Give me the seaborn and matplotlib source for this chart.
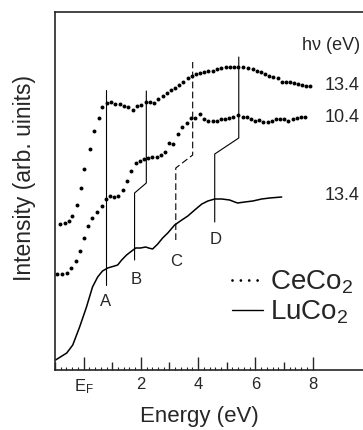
import numpy as np
import pandas as pd
import matplotlib
matplotlib.use("Agg")
import matplotlib.pyplot as plt
import seaborn as sns
from matplotlib.lines import Line2D
from matplotlib.ticker import FixedLocator, FixedFormatter

# CeCo2, hv = 13.4 eV (dots, upper curve)
ce134_e = [-0.84, -0.66, -0.52, -0.42, -0.24, -0.10, 0.03, 0.21, 0.35, 0.52, 0.63, 0.80,
           0.94, 1.08, 1.26, 1.40, 1.54, 1.71, 1.85, 1.99, 2.17, 2.31, 2.45, 2.59, 2.76,
           2.90, 3.04, 3.18, 3.32, 3.46, 3.64, 3.78, 3.92, 4.06, 4.20, 4.34, 4.51, 4.65,
           4.79, 4.97, 5.10, 5.24, 5.38, 5.56, 5.73, 5.91, 6.05, 6.19, 6.33, 6.47, 6.61,
           6.78, 6.92, 7.06, 7.20, 7.34, 7.48, 7.62, 7.76, 7.90]
ce134_i = [146, 147, 149, 154, 165, 182, 201, 221, 239, 252, 263, 267,
           268, 266, 266, 264, 263, 260, 264, 265, 268, 268, 267, 271, 274,
           277, 280, 282, 285, 288, 292, 294, 296, 297, 298, 299, 299, 301,
           302, 303, 303, 303, 303, 303, 302, 301, 299, 298, 296, 294, 293,
           292, 288, 288, 288, 287, 286, 285, 284, 284]

# CeCo2, hv = 10.4 eV (dots, middle curve)
ce104_e = [-0.94, -0.77, -0.59, -0.45, -0.28, -0.14, 0.00, 0.17, 0.31, 0.45, 0.63, 0.77,
           0.91, 1.05, 1.19, 1.36, 1.50, 1.64, 1.82, 1.96, 2.10, 2.24, 2.38, 2.55, 2.69,
           2.83, 2.97, 3.11, 3.29, 3.43, 3.60, 3.74, 3.88, 4.06, 4.20, 4.34, 4.51, 4.65,
           4.79, 4.93, 5.07, 5.21, 5.38, 5.56, 5.70, 5.84, 5.98, 6.12, 6.26, 6.43, 6.57,
           6.71, 6.85, 6.99, 7.13, 7.31, 7.45, 7.59, 7.73]
ce104_i = [96, 96, 97, 102, 109, 119, 132, 144, 152, 158, 164, 171,
           174, 173, 174, 180, 189, 199, 207, 209, 211, 212, 213, 213, 215,
           218, 227, 226, 236, 243, 247, 252, 252, 256, 251, 249, 249, 249,
           251, 251, 252, 253, 255, 253, 253, 251, 249, 250, 248, 248, 249,
           251, 251, 251, 249, 251, 252, 253, 253]

# LuCo2, hv = 13.4 eV (solid line)
lu134_e = [-0.98, -0.59, -0.38, -0.14, 0.10, 0.31, 0.49, 0.66, 0.84, 1.08, 1.19, 1.33,
           1.50, 1.68, 1.82, 1.99, 2.17, 2.27, 2.41, 2.59, 2.76, 2.94, 3.18, 3.43, 3.64,
           3.88, 4.13, 4.34, 4.58, 4.83, 5.10, 5.28, 5.38, 5.63, 5.91, 6.22, 6.50, 6.92]
lu134_i = [10, 17, 25, 43, 63, 83, 93, 99, 102, 104, 105, 110,
           115, 119, 122, 122, 123, 122, 121, 126, 132, 137, 145, 150, 154,
           160, 166, 169, 171, 171, 170, 168, 167, 168, 169, 171, 172, 173]

# feature markers A-D (vertices of each marker path)
mark_names = ["A", "B", "C", "D"]
mark_e = [[0.77, 0.77], [1.78, 1.78, 2.19, 2.19], [3.22, 3.22, 3.81, 3.81], [4.58, 4.58, 5.42, 5.42]]
mark_i = [[85, 280], [110, 177, 187, 279], [130, 202, 215, 308], [148, 216, 232, 313]]
mark_lbl_e = [0.77, 1.82, 3.22, 4.62]
mark_lbl_i = [68, 90, 108, 131]

# photon energy labels at curve ends
hv_labels = ["13.4", "10.4", "13.4"]
hv_lbl_i = [284, 253, 175]

sns.set_style("ticks")
plt.rcParams["font.family"] = ["Liberation Sans", "DejaVu Sans"]
plt.rcParams["mathtext.fontset"] = "custom"
plt.rcParams["mathtext.rm"] = "Liberation Sans"
plt.rcParams["mathtext.it"] = "Liberation Sans:italic"

fig = plt.figure(figsize=(3.63, 4.30), dpi=100)
ax = fig.add_axes([55 / 363, 60 / 430, 1 - 55 / 363, 358 / 430])

dot_kw = dict(color="black", s=8, linewidth=0, ax=ax, legend=False)
sns.scatterplot(x=ce134_e, y=ce134_i, **dot_kw)
sns.scatterplot(x=ce104_e, y=ce104_i, **dot_kw)
sns.lineplot(x=lu134_e, y=lu134_i, color="black", lw=1.1, sort=False,
             estimator=None, ax=ax)

for name, xs, ys, lx, ly in zip(mark_names, mark_e, mark_i, mark_lbl_e, mark_lbl_i):
    ls = (0, (6, 3)) if name == "C" else "-"
    sns.lineplot(x=xs, y=ys, color="black", lw=0.8, sort=False, estimator=None,
                 linestyle=ls, ax=ax)
    ax.text(lx, ly, name, fontsize=12, ha="center", va="center")

for lbl, y in zip(hv_labels, hv_lbl_i):
    ax.text(8.43, y, lbl, fontsize=13, ha="left", va="center")
ax.text(7.62, 325, "h\u03bd (eV)", fontsize=13, ha="left", va="center")

ax.set_xlim(-1, 9.76)
ax.set_ylim(0, 358)

# axes frame: left, top, bottom
for sp in ["left", "top", "bottom"]:
    ax.spines[sp].set_linewidth(1.2)
ax.spines["right"].set_visible(False)
ax.set_yticks([])

major = list(range(-1, 9))
ax.xaxis.set_major_locator(FixedLocator(major))
ax.xaxis.set_major_formatter(FixedFormatter(
    ["", "$\\mathregular{E_F}$", "", "2", "", "4", "", "6", "", "8"]))
ax.xaxis.set_minor_locator(FixedLocator(np.arange(-1, 8.01, 0.2)))
ax.tick_params(axis="x", which="major", direction="in", length=9.5, width=1.0,
               labelsize=12, pad=5, top=False)
ax.tick_params(axis="x", which="minor", direction="in", length=2, width=0.8, top=False)
for t, v in zip(ax.xaxis.get_major_ticks(), major):
    if v % 2:
        t.tick1line.set_markersize(6)

ax.set_xlabel("Energy (eV)", fontsize=16)
ax.xaxis.set_label_coords((199 - 55) / 308, -0.10)
ax.set_ylabel("Intensity (arb. uinits)", fontsize=16.5)
ax.yaxis.set_label_coords(-0.062, 0.536)

handles = [Line2D([], [], color="black", lw=2, linestyle=(0, (0.01, 3.0)),
                  dash_capstyle="round"),
           Line2D([], [], color="black", lw=1.0)]
ax.legend(handles, ["$\\mathregular{CeCo_2}$", "$\\mathregular{LuCo_2}$"],
          loc="center left", bbox_to_anchor=(0.575, 0.2025), frameon=False,
          fontsize=20, handlelength=1.1, handletextpad=0.25, borderpad=0,
          borderaxespad=0, labelspacing=0.1)

fig.savefig("out.png", dpi=100)
